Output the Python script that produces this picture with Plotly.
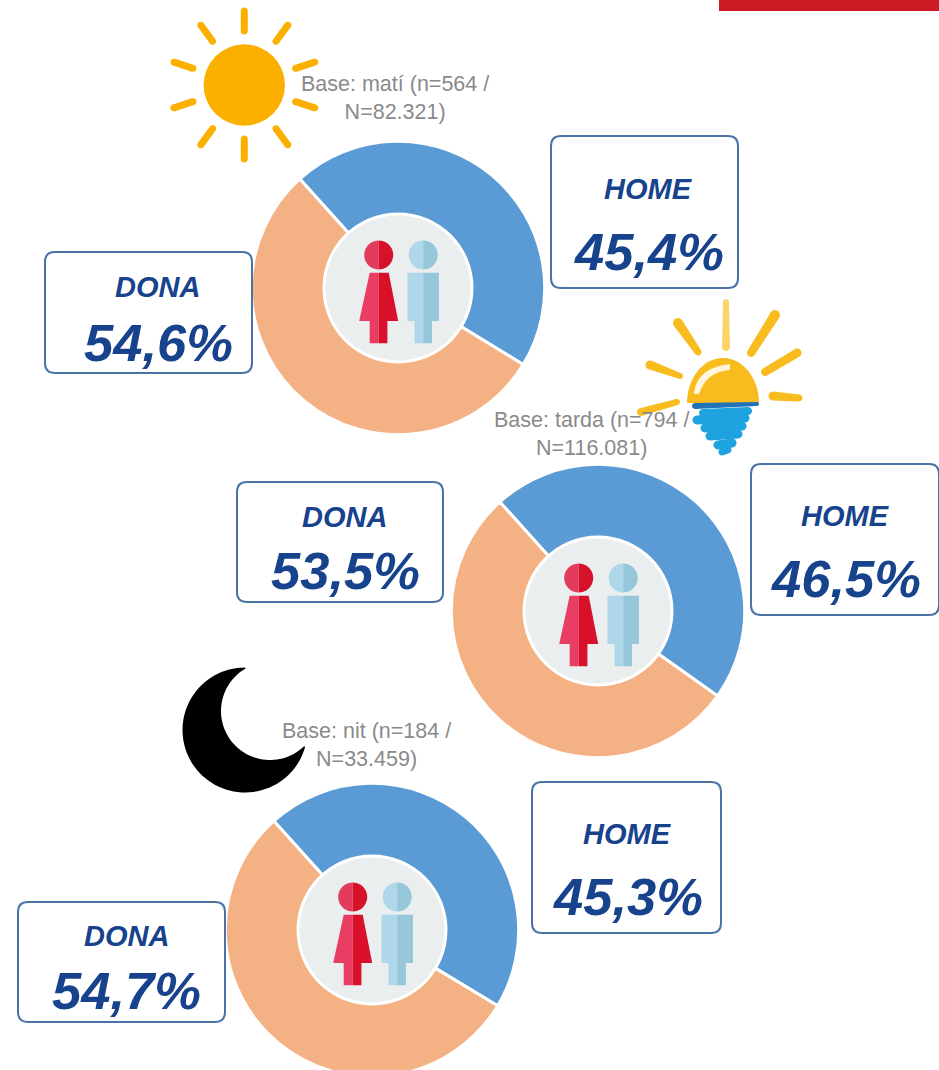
import numpy as np
import plotly.graph_objects as go

# ---- data ----
periods = ["matí", "tarda", "nit"]
series_names = ["HOME", "DONA"]
home_pct = [45.4, 46.5, 45.3]
dona_pct = [54.6, 53.5, 54.7]
n_sample = ["564", "794", "184"]
n_total = ["82.321", "116.081", "33.459"]

# ---- layout constants (pixels of the page) ----
W, H = 939, 1090   # taller than the window so that the last ring is cut by the window edge
BLUE, ORANGE = "#5B9BD5", "#F4B183"
INK, FRAME, GREY = "#17428C", "#4A74A8", "#8A8A8A"
FONT = "Liberation Sans"
centers = [(398, 288), (598, 611), (372, 930)]
R = 146.7
home_boxes = [(551, 136, 738, 288), (751, 464, 939, 615), (532, 782, 721, 933)]
dona_boxes = [(45, 252, 252, 373), (237, 482, 443, 602), (18, 902, 225, 1022)]
home_text = [((648, 189), (649, 251)), ((845, 516), (846, 578)), ((627, 834), (628, 896))]
dona_text = [((157, 287), (158, 342)), ((344, 517), (345, 570)), ((126, 936), (127, 990))]
base_text = [(395, 98), (591, 434), (366, 745)]


def fx(x):
    return x / W


def fy(y):
    return 1 - y / H


def poly(points, color, line=None, width=0, closed=True):
    d = "M " + " L ".join(f"{fx(x):.5f},{fy(y):.5f}" for x, y in points) + (" Z" if closed else "")
    return dict(type="path", xref="paper", yref="paper", path=d, fillcolor=color,
                line=dict(color=line or color, width=width), layer="above")


def disc(cx, cy, r, color, line=None, width=0):
    return dict(type="circle", xref="paper", yref="paper", x0=fx(cx - r), x1=fx(cx + r),
                y0=fy(cy + r), y1=fy(cy - r), fillcolor=color,
                line=dict(color=line or color, width=width), layer="above")


def capsule(x0, y0, x1, y1, w0, w1, color):
    a = np.arctan2(y1 - y0, x1 - x0)
    t0 = np.linspace(a + np.pi / 2, a + 3 * np.pi / 2, 10)
    t1 = np.linspace(a - np.pi / 2, a + np.pi / 2, 10)
    pts = [(x0 + w0 / 2 * np.cos(t), y0 + w0 / 2 * np.sin(t)) for t in t0]
    pts += [(x1 + w1 / 2 * np.cos(t), y1 + w1 / 2 * np.sin(t)) for t in t1]
    return poly(pts, color)


def rounded(x0, y0, x1, y1, r=10):
    d = (f"M {fx(x0 + r)},{fy(y0)} L {fx(x1 - r)},{fy(y0)} Q {fx(x1)},{fy(y0)} {fx(x1)},{fy(y0 + r)} "
         f"L {fx(x1)},{fy(y1 - r)} Q {fx(x1)},{fy(y1)} {fx(x1 - r)},{fy(y1)} "
         f"L {fx(x0 + r)},{fy(y1)} Q {fx(x0)},{fy(y1)} {fx(x0)},{fy(y1 - r)} "
         f"L {fx(x0)},{fy(y0 + r)} Q {fx(x0)},{fy(y0)} {fx(x0 + r)},{fy(y0)} Z")
    return dict(type="path", xref="paper", yref="paper", path=d, fillcolor="white",
                line=dict(color=FRAME, width=2), layer="above")


def half_disc(cx, cy, r, left, color):
    t = np.linspace(np.pi / 2, 3 * np.pi / 2, 24) if left else np.linspace(-np.pi / 2, np.pi / 2, 24)
    return poly([(cx + r * np.cos(a), cy + r * np.sin(a)) for a in t], color)


def bezier(p0, p1, p2, n=16):
    t = np.linspace(0, 1, n)
    return [((1 - u) ** 2 * p0[0] + 2 * u * (1 - u) * p1[0] + u ** 2 * p2[0],
             (1 - u) ** 2 * p0[1] + 2 * u * (1 - u) * p1[1] + u ** 2 * p2[1]) for u in t]


def people(cx, cy):
    s = []
    s.append(disc(cx, cy, 75.5, "white"))
    s.append(disc(cx, cy, 72.5, "#EAEEEF"))
    # woman
    x = cx - 19.3
    s.append(half_disc(x, cy - 33, 14.5, True, "#E23B5E"))
    s.append(half_disc(x, cy - 33, 14.5, False, "#D5122A"))
    s.append(poly([(x, cy - 15.3), (x - 9, cy - 15.3), (x - 19.5, cy + 33), (x - 9, cy + 33),
                   (x - 9, cy + 55.3), (x, cy + 55.3)], "#EA3D63"))
    s.append(poly([(x, cy - 15.3), (x + 10, cy - 15.3), (x + 19.5, cy + 33), (x + 8.7, cy + 33),
                   (x + 8.7, cy + 55.3), (x, cy + 55.3)], "#D8102A"))
    # man
    x = cx + 25.2
    s.append(half_disc(x, cy - 33, 14.5, True, "#AED7EA"))
    s.append(half_disc(x, cy - 33, 14.5, False, "#95C6D9"))
    s.append(poly([(x, cy - 15.3), (x - 15.7, cy - 15.3), (x - 15.7, cy + 33), (x - 8.7, cy + 33),
                   (x - 8.7, cy + 55.3), (x, cy + 55.3)], "#AED7EA"))
    s.append(poly([(x, cy - 15.3), (x + 15.7, cy - 15.3), (x + 15.7, cy + 33), (x + 8.7, cy + 33),
                   (x + 8.7, cy + 55.3), (x, cy + 55.3)], "#95C6D9"))
    return s


def sun_icon():
    cx, cy = 244.3, 85
    out = [disc(cx, cy, 40.7, "#FBB000")]
    for deg in np.arange(0, 360, 36):
        a = np.radians(deg)
        out.append(capsule(cx + 54 * np.sin(a), cy - 54 * np.cos(a),
                           cx + 74 * np.sin(a), cy - 74 * np.cos(a), 7, 7, "#FBB000"))
    return out


def sunset_icon():
    y_c = "#F8BC1E"
    out = [capsule(726, 347, 726, 302, 8, 6, "#FBD46A"),
           capsule(698, 352, 678, 323, 7, 10, y_c),
           capsule(751, 353, 775, 315, 8, 10, y_c),
           capsule(765, 372, 797, 353, 8, 9, y_c),
           capsule(680, 376, 650, 365, 6, 9, y_c),
           capsule(773, 396, 799, 398, 9, 7, y_c),
           capsule(677, 402, 641, 412, 6, 8, y_c)]
    t = np.linspace(np.pi, 2 * np.pi, 40)
    out.append(poly([(723 + 36 * np.cos(a), 403 + 45 * np.sin(a)) for a in t], "#F8BC1E"))
    out.append(poly(bezier((694, 394), (696, 368), (730, 364))
                    + bezier((730, 370), (706, 372), (699, 394)), "#FFF6DC"))
    out.append(capsule(695, 406, 757, 404, 6, 4, "#2272B8"))
    for x0, x1, y, w in [(703, 748, 413, 8), (697, 745, 420, 9), (705, 742, 428, 9),
                         (710, 738, 436, 9), (718, 732, 445, 9), (722, 728, 452, 7)]:
        out.append(capsule(x0, y, x1, y - 2, w, w, "#1FA3E0"))
    return out


def moon_icon():
    ox, oy, orr = 245, 730, 62.5
    ix, iy, irr = 270, 711, 49
    p1 = (245, 667.5)
    p2 = (305, 747)
    a0 = np.arctan2(p1[1] - oy, p1[0] - ox)
    a1 = np.arctan2(p2[1] - oy, p2[0] - ox)
    outer = np.linspace(a0 if a0 < 0 else a0 - 2 * np.pi, a1 - 2 * np.pi, 70)
    b0 = np.arctan2(p2[1] - iy, p2[0] - ix)
    b1 = np.arctan2(p1[1] - iy, p1[0] - ix)
    inner = np.linspace(b0, b1 if b1 > b0 else b1 + 2 * np.pi, 60)
    pts = [(ox + orr * np.cos(a), oy + orr * np.sin(a)) for a in outer]
    pts += [(ix + irr * np.cos(a), iy + irr * np.sin(a)) for a in inner]
    return [poly(pts, "black")]


fig = go.Figure()
shapes = [dict(type="rect", xref="paper", yref="paper", x0=fx(719), x1=fx(939), y0=fy(11), y1=fy(0),
               fillcolor="#CC1B22", line=dict(width=0), layer="above")]
annotations = []


def note(x, y, text, size, color):
    annotations.append(dict(x=fx(x), y=fy(y), xref="paper", yref="paper", text=text, showarrow=False,
                            xanchor="center", yanchor="middle", align="center",
                            font=dict(family=FONT, size=size, color=color)))


def pct(v):
    return f"{v:.1f}".replace(".", ",") + "%"


for i, (cx, cy) in enumerate(centers):
    fig.add_trace(go.Pie(
        labels=series_names, values=[home_pct[i], dona_pct[i]],
        sort=False, direction="clockwise", rotation=318, hole=0.5,
        marker=dict(colors=[BLUE, ORANGE], line=dict(color="white", width=3)),
        textinfo="none", showlegend=False, hoverinfo="label+percent",
        domain=dict(x=[fx(cx - R), fx(cx + R)], y=[fy(cy + R), fy(cy - R)]),
    ))
    shapes += people(cx, cy)
    shapes.append(rounded(*home_boxes[i]))
    shapes.append(rounded(*dona_boxes[i]))
    (hx, hy), (px, py) = home_text[i]
    note(hx, hy, f"<b><i>{series_names[0]}</i></b>", 29, INK)
    note(px, py, f"<b><i>{pct(home_pct[i])}</i></b>", 52.5, INK)
    (hx, hy), (px, py) = dona_text[i]
    note(hx, hy, f"<b><i>{series_names[1]}</i></b>", 29, INK)
    note(px, py, f"<b><i>{pct(dona_pct[i])}</i></b>", 52.5, INK)
    bx, by = base_text[i]
    note(bx, by, f"Base: {periods[i]} (n={n_sample[i]} /<br>N={n_total[i]})", 21.5, GREY)

shapes += sun_icon() + sunset_icon() + moon_icon()

fig.update_layout(width=W, height=H, margin=dict(l=0, r=0, t=0, b=0), paper_bgcolor="white",
                  plot_bgcolor="white", shapes=shapes, annotations=annotations,
                  font=dict(family=FONT), showlegend=False)

fig.write_html("out.html", config=dict(displayModeBar=False),
               post_script="document.body.style.margin='0';document.documentElement.style.overflow='hidden';document.body.style.overflow='hidden';")
